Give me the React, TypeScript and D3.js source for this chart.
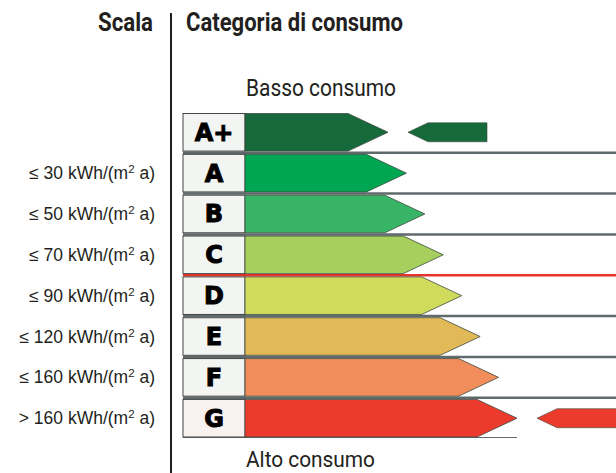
import React from "react";
import * as d3 from "d3";

// classes, from low to high consumption
const categories = ["A+", "A", "B", "C", "D", "E", "F", "G"];
const classColors = ["#15693a", "#00a651", "#37b466", "#a6cf5d", "#d0db5b", "#e1b957", "#f18d5a", "#ec3b2c"];
// arrow length step of each class (longer = more consumption)
const classSteps = [0, 1, 2, 3, 4, 5, 6, 7];
// scale labels on the left
const scaleSign = ["", "≤", "≤", "≤", "≤", "≤", "≤", ">"];
const scaleValue = ["", "30", "50", "70", "90", "120", "160", "160"];
// indicator arrows pointing at a class
const indicatorCats = ["A+", "G"];
const indicatorEnd = [487, 640];
// red limit line under this class
const limitAfter = "C";

const W = 616;
const H = 473;
const boxX = 183;
const boxW = 62;
const tipLen = 40;

export default function App() {
  const y = d3.scaleBand<string>().domain(categories).range([113.5, 437]).paddingInner(0.08).paddingOuter(0).align(0);
  const x = d3.scaleLinear().domain([0, 7]).range([348, 477]);
  const bw = y.bandwidth();
  const gap = y.step() - bw;

  const arrowPath = (i: number) => {
    const c = categories[i];
    const top = y(c)!;
    const x0 = boxX + boxW;
    const x1 = x(classSteps[i]);
    return d3.line()([
      [x0, top],
      [x1, top],
      [x1 + tipLen, top + bw / 2],
      [x1, top + bw],
      [x0, top + bw],
    ]) + "Z";
  };

  return (
    <svg width={W} height={H} style={{ position: "absolute", left: 0, top: 0, background: "#fff" }}>
      {/* headers */}
      <text x={153} y={31} textAnchor="end" fontFamily="Roboto" fontWeight="bold" fontSize={25} fill="#231f20"
        textLength={55} lengthAdjust="spacingAndGlyphs">Scala</text>
      <text x={186} y={31} fontFamily="Roboto" fontWeight="bold" fontSize={25} fill="#231f20"
        textLength={217} lengthAdjust="spacingAndGlyphs">Categoria di consumo</text>
      <line x1={171} x2={171} y1={13} y2={H} stroke="#231f20" strokeWidth={2} />

      <text x={246} y={96} fontFamily="Roboto" fontSize={24} fill="#231f20"
        textLength={150} lengthAdjust="spacingAndGlyphs">Basso consumo</text>
      <text x={246} y={467} fontFamily="Roboto" fontSize={22} fill="#231f20"
        textLength={129} lengthAdjust="spacingAndGlyphs">Alto consumo</text>

      {/* separator lines between rows */}
      {categories.slice(0, -1).map((c, i) => {
        const yy = y(c)! + bw + gap / 2;
        const red = c === limitAfter;
        return (
          <line key={"sep" + i} x1={boxX} x2={W} y1={yy} y2={yy}
            stroke={red ? "#e8332a" : "#5f6a6d"} strokeWidth={2.5} />
        );
      })}
      <line x1={boxX} x2={x(7) + tipLen} y1={y("G")! + bw + 0.5} y2={y("G")! + bw + 0.5} stroke="#5f6a6d" strokeWidth={1} />

      {categories.map((c, i) => {
        const top = y(c)!;
        const cy = top + bw / 2;
        return (
          <g key={c}>
            <rect x={boxX} y={top} width={boxW} height={bw} fill={c === "G" ? "#f9f1f0" : "#f2f5f2"} stroke="#444" strokeWidth={1} />
            <text x={boxX + boxW / 2} y={cy + 8.5} textAnchor="middle" fontFamily="DejaVu Sans" fontWeight="bold"
              fontSize={24} fill="#000" stroke="#000" strokeWidth={1}>{c}</text>
            <path d={arrowPath(i)} fill={classColors[i]} stroke="#3d4a40" strokeWidth={0.8} />
            {scaleValue[i] !== "" && (
              <text x={155} y={cy + 6} textAnchor="end" fontFamily="Liberation Sans" fontSize={17.5} fill="#231f20">
                <tspan>{scaleSign[i]} {scaleValue[i]} kWh/(m</tspan>
                <tspan fontSize={11.5} dy={-6}>2</tspan>
                <tspan dy={6}> a)</tspan>
              </text>
            )}
          </g>
        );
      })}

      {/* indicator arrows */}
      {indicatorCats.map((c, k) => {
        const i = categories.indexOf(c);
        const cy = y(c)! + bw / 2;
        const tip = x(classSteps[i]) + tipLen + 20;
        const h = 19;
        const d = d3.line()([
          [tip, cy],
          [tip + 20, cy - h / 2],
          [indicatorEnd[k], cy - h / 2],
          [indicatorEnd[k], cy + h / 2],
          [tip + 20, cy + h / 2],
        ]) + "Z";
        return <path key={"ind" + c} d={d} fill={classColors[i]} stroke="#3d4a40" strokeWidth={0.6} />;
      })}
    </svg>
  );
}
